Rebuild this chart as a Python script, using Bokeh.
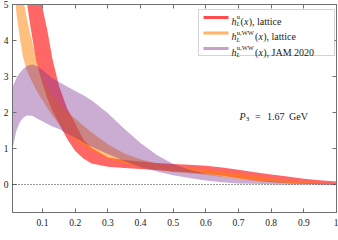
from bokeh.plotting import figure
from bokeh.models import (Range1d, LinearAxis, FixedTicker, Span, Label, BoxAnnotation,
                          CustomLabelingPolicy)
from bokeh.embed import file_html
from bokeh.resources import INLINE

# ---------------- data ----------------
x_grid = [0.008, 0.02, 0.03, 0.04, 0.05, 0.06, 0.07, 0.08, 0.09, 0.1, 0.115, 0.13, 0.15,
          0.175, 0.2, 0.225, 0.25, 0.3, 0.35, 0.4, 0.45, 0.5, 0.55, 0.6, 0.65, 0.7,
          0.75, 0.8, 0.85, 0.9, 0.95, 1.0]

# h_L^u(x), lattice (starts above the top of the chart)
red_x = [0.04, 0.05, 0.06, 0.07, 0.08, 0.09, 0.1, 0.115, 0.13, 0.15, 0.175, 0.2, 0.225,
         0.25, 0.3, 0.35, 0.4, 0.45, 0.5, 0.55, 0.6, 0.65, 0.7, 0.75, 0.8, 0.85, 0.9,
         0.95, 1.0]
red_lower = [6.0, 5.2, 4.55, 4.0, 3.45, 3.1, 2.8, 2.38, 2.05, 1.7, 1.27, 0.93, 0.72,
             0.58, 0.49, 0.46, 0.43, 0.40, 0.36, 0.33, 0.30, 0.24, 0.17, 0.11, 0.07,
             0.04, 0.02, 0.01, 0.0]
red_upper = [11.0, 10.0, 8.8, 7.6, 6.5, 5.5, 4.9, 4.27, 3.5, 2.75, 2.12, 1.7, 1.25,
             1.02, 0.75, 0.68, 0.64, 0.60, 0.57, 0.55, 0.52, 0.47, 0.41, 0.34, 0.28,
             0.22, 0.16, 0.12, 0.08]

# h_L^{u,WW}(x), lattice
orange_lower = [6.2, 4.75, 4.1, 3.55, 3.22, 3.0, 2.82, 2.64, 2.48, 2.34, 2.12, 1.92, 1.68,
                1.45, 1.25, 1.08, 0.95, 0.72, 0.58, 0.48, 0.41, 0.35, 0.31, 0.27, 0.21,
                0.15, 0.10, 0.06, 0.035, 0.02, 0.01, 0.0]
orange_upper = [9.5, 7.6, 6.1, 5.2, 4.7, 4.28, 3.9, 3.52, 3.22, 2.98, 2.7, 2.48, 2.25,
                2.02, 1.83, 1.63, 1.45, 1.12, 0.86, 0.70, 0.58, 0.51, 0.46, 0.42, 0.36,
                0.30, 0.24, 0.18, 0.12, 0.08, 0.05, 0.03]

# h_L^{u,WW}(x), JAM 2020
purple_lower = [1.0, 1.5, 1.72, 1.85, 1.91, 1.92, 1.9, 1.85, 1.8, 1.76, 1.68, 1.61, 1.54,
                1.42, 1.3, 1.17, 1.05, 0.85, 0.65, 0.48, 0.36, 0.26, 0.18, 0.11, 0.06,
                0.03, 0.02, 0.01, 0.0, 0.0, 0.0, 0.0]
purple_upper = [2.7, 2.95, 3.1, 3.2, 3.28, 3.32, 3.33, 3.3, 3.24, 3.18, 3.06, 2.96, 2.85,
                2.72, 2.6, 2.48, 2.34, 1.98, 1.55, 1.15, 0.82, 0.57, 0.41, 0.30, 0.22,
                0.16, 0.11, 0.08, 0.05, 0.03, 0.02, 0.01]

x_ticks = [0.1, 0.2, 0.3, 0.4, 0.5, 0.6, 0.7, 0.8, 0.9, 1.0]
y_ticks = [0, 1, 2, 3, 4, 5]

RED = "#ff0000"
ORANGE = "#ff8000"
PURPLE = "#7e2f8e"
FRAME = "#707070"
TEXT = "#1a1a1a"
SERIF = "Liberation Serif"

# ---------------- figure ----------------
p = figure(width=338, height=240, output_backend="svg", toolbar_location=None,
           x_range=Range1d(0.008, 1.0), y_range=Range1d(-0.778, 5.0),
           x_axis_location=None, y_axis_location=None,
           min_border_left=9, min_border_right=2, min_border_top=4, min_border_bottom=28)
p.grid.visible = False
p.outline_line_color = FRAME
p.background_fill_color = "white"
p.border_fill_color = "white"

NO_LABELS = "for (const i of Array.from(indices)) { indices.unset(i) }\nreturn indices"

def make_axis(ticks, labels):
    ax = LinearAxis(ticker=FixedTicker(ticks=ticks))
    ax.major_tick_in = 4
    ax.major_tick_out = 0
    ax.minor_tick_line_color = None
    ax.axis_line_color = FRAME
    ax.major_tick_line_color = FRAME
    ax.major_label_text_font = SERIF
    ax.major_label_text_color = TEXT
    ax.major_label_text_font_size = "9.5px"
    if labels:
        ax.major_label_standoff = 4
    else:
        ax.major_label_standoff = 0
        ax.major_label_text_font_size = "0px"
        ax.major_label_policy = CustomLabelingPolicy(code=NO_LABELS)
    return ax

xb = make_axis(x_ticks, True)
xb.major_label_standoff = 6
xb.major_label_overrides = {1: "1"}
xt = make_axis(x_ticks, False)
yl = make_axis(y_ticks, True)
yl.major_label_standoff = 4
yr = make_axis(y_ticks, False)
p.add_layout(xb, "below")
p.add_layout(xt, "above")
p.add_layout(yl, "left")
p.add_layout(yr, "right")

# bands
p.varea(x=red_x, y1=red_lower, y2=red_upper, fill_color=RED, fill_alpha=0.6)
p.varea(x=x_grid, y1=orange_lower, y2=orange_upper, fill_color=ORANGE, fill_alpha=0.5)
p.varea(x=x_grid, y1=purple_lower, y2=purple_upper, fill_color=PURPLE, fill_alpha=0.4)

p.add_layout(Span(location=0, dimension="width", line_color="#333333",
                  line_dash="1 2", line_width=1))

# ---------------- legend & annotations (page-pixel layout) ----------------
FL, FB = 9, 212   # frame left / bottom in page pixels

def sx(px):
    return px - FL

def sy(py):
    return FB - py

def lab(text, px, py, size=10, style="normal", align="left"):
    p.add_layout(Label(x=sx(px), y=sy(py), x_units="screen", y_units="screen",
                       text=text, text_font=SERIF, text_font_size=f"{size}px",
                       text_font_style=style, text_color=TEXT,
                       text_baseline="alphabetic", text_align=align))

# x axis label
lab("x", 172.5, 234.0, 10, "italic", "center")

p.add_layout(BoxAnnotation(left=sx(195), right=sx(331), top=sy(9), bottom=sy(55),
                           left_units="screen", right_units="screen",
                           top_units="screen", bottom_units="screen",
                           fill_color="white", fill_alpha=1.0,
                           line_color=FRAME, line_width=1))

rows = [
    (17.0, RED, 0.7, "u", 237.0, "), lattice"),
    (32.5, ORANGE, 0.6, "u,WW", 251.5, "), lattice"),
    (48.0, PURPLE, 0.45, "u,WW", 251.5, "), JAM 2020"),
]
for cy, col, alpha, sup, paren_x, tail in rows:
    p.add_layout(BoxAnnotation(left=sx(200), right=sx(225), top=sy(cy - 1.5), bottom=sy(cy + 1.5),
                               left_units="screen", right_units="screen",
                               top_units="screen", bottom_units="screen",
                               fill_color=col, fill_alpha=alpha, line_color=None))
    base = cy + 3.5
    lab("h", 228, base, 10, "italic")
    lab(sup, 233.3, base - 4.5, 6.5)
    lab("L", 233.0, base + 2.5, 6.5, "italic")
    lab("(", paren_x, base)
    lab("x", paren_x + 3.5, base, 10, "italic")
    lab(tail, paren_x + 8.2, base)

# P3 = 1.67 GeV
lab("P", 236, 116, 10, "italic")
lab("3", 242.2, 118.5, 7)
lab("=", 251.5, 116)
lab("1.67", 263.5, 116)
lab("GeV", 285.5, 116)

open("out.html", "w").write(file_html(p, INLINE))
